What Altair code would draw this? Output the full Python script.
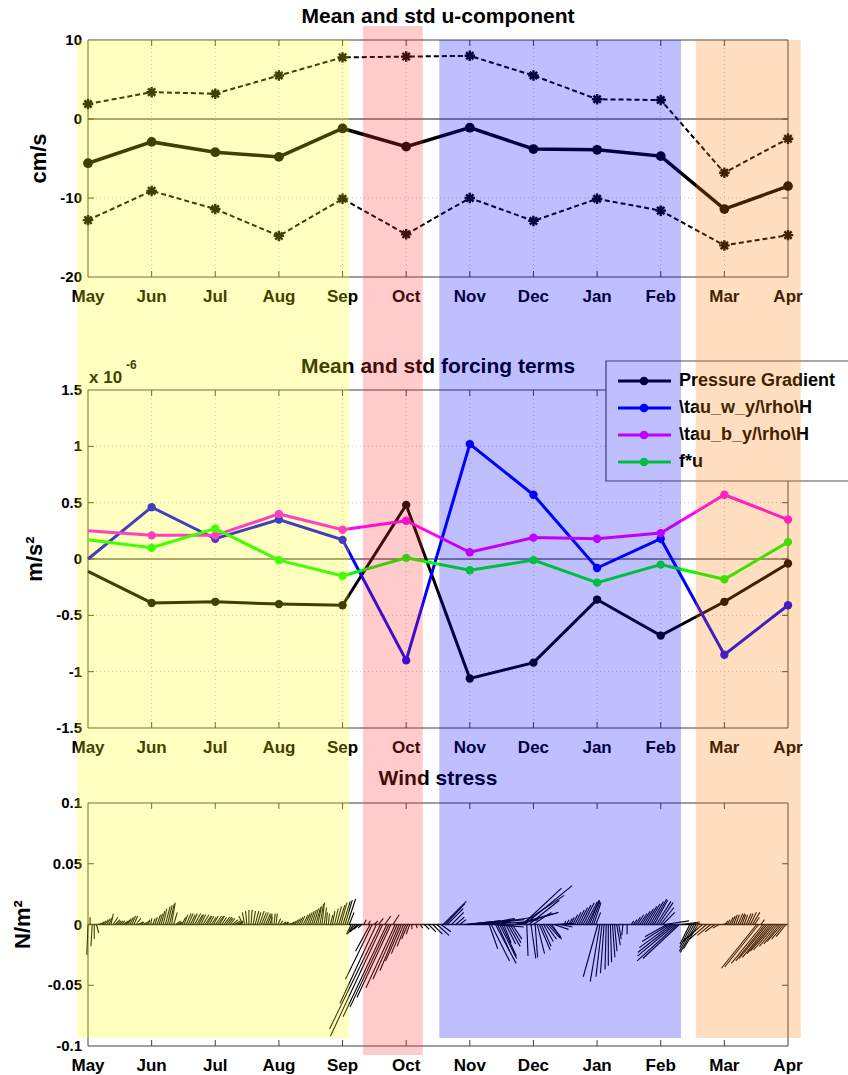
import altair as alt
import pandas as pd

FONT = "Liberation Sans, Arial, Helvetica, sans-serif"
AXIS_COLOR = "#404040"
GRID_COLOR = "#c4c4c4"

MONTHS = ["May", "Jun", "Jul", "Aug", "Sep", "Oct", "Nov", "Dec", "Jan", "Feb", "Mar", "Apr"]
PANEL_TITLES = ["Mean and std u-component", "Mean and std forcing terms", "Wind stress"]

# monthly u-component statistics (cm/s)
U_MEAN = [-5.6, -2.9, -4.2, -4.8, -1.2, -3.5, -1.1, -3.8, -3.9, -4.7, -11.4, -8.5]
U_PLUS_STD = [1.9, 3.4, 3.2, 5.5, 7.8, 7.9, 8.0, 5.5, 2.5, 2.4, -6.8, -2.5]
U_MINUS_STD = [-12.8, -9.1, -11.4, -14.8, -10.1, -14.6, -10.0, -12.9, -10.1, -11.6, -16.0, -14.7]

# monthly forcing terms (x 1e-6 m/s^2)
TERM_NAMES = ["Pressure Gradient", "\\tau_w_y/\\rho\\H", "\\tau_b_y/\\rho\\H", "f*u"]
TERM_COLORS = ["#000000", "#0000ff", "#ff00ff", "#00ff00"]
PRESSURE_GRADIENT = [-0.11, -0.39, -0.38, -0.40, -0.41, 0.48, -1.06, -0.92, -0.36, -0.68, -0.38, -0.04]
TAU_W = [0.00, 0.46, 0.18, 0.35, 0.17, -0.90, 1.02, 0.57, -0.08, 0.18, -0.85, -0.41]
TAU_B = [0.25, 0.21, 0.21, 0.40, 0.26, 0.34, 0.06, 0.19, 0.18, 0.23, 0.57, 0.35]
F_U = [0.17, 0.10, 0.27, -0.01, -0.15, 0.01, -0.10, -0.01, -0.21, -0.05, -0.18, 0.15]

# wind stress sticks: (day since 1 May, tau_x, tau_y) in N/m^2
STICKS_MAY_SEP = [
    (0, -0.001, -0.025), (1, 0.000, 0.006), (2, -0.001, -0.018), (3, 0.000, -0.012), (4, 0.002, -0.007),
    (5, 0.003, 0.001), (6, 0.003, 0.002), (7, 0.003, 0.003), (8, 0.003, 0.004), (9, 0.003, 0.005),
    (10, 0.003, 0.006), (11, 0.002, 0.009), (12, 0.004, 0.006), (13, 0.004, 0.004), (14, 0.003, 0.003),
    (15, 0.003, 0.003), (16, 0.003, 0.003), (17, 0.004, 0.003), (18, 0.004, 0.004), (19, 0.003, 0.005),
    (20, 0.003, 0.006), (21, 0.003, 0.007), (22, 0.003, 0.007), (23, 0.004, 0.005), (24, 0.004, 0.002),
    (25, 0.003, 0.002), (26, 0.003, 0.001), (27, 0.002, 0.002), (28, 0.002, 0.003), (29, 0.001, 0.004),
    (30, 0.001, 0.005), (31, 0.002, 0.005), (32, 0.002, 0.006), (33, 0.003, 0.008), (34, 0.003, 0.009),
    (35, 0.003, 0.011), (36, 0.003, 0.013), (37, 0.004, 0.015), (38, 0.004, 0.016), (39, 0.004, 0.017),
    (40, 0.003, 0.018), (41, 0.003, 0.010), (42, 0.004, 0.003), (43, 0.003, 0.002), (44, 0.002, 0.002),
    (45, 0.003, 0.006), (46, 0.003, 0.008), (47, 0.004, 0.009), (48, 0.004, 0.009), (49, 0.004, 0.008),
    (50, 0.004, 0.009), (51, 0.005, 0.009), (52, 0.005, 0.008), (53, 0.004, 0.008), (54, 0.004, 0.008),
    (55, 0.005, 0.008), (56, 0.005, 0.007), (57, 0.004, 0.007), (58, 0.004, 0.007), (59, 0.004, 0.006),
    (60, 0.004, 0.007), (61, 0.005, 0.007), (62, 0.005, 0.007), (63, 0.004, 0.007), (64, 0.004, 0.006),
    (65, 0.005, 0.006), (66, 0.005, 0.006), (67, 0.004, 0.005), (68, 0.004, 0.005), (69, 0.005, 0.004),
    (70, 0.005, 0.003), (71, 0.004, 0.002), (72, 0.004, 0.002), (73, 0.002, 0.003), (74, -0.003, 0.007),
    (75, -0.002, 0.010), (76, -0.001, 0.011), (77, 0.000, 0.012), (78, 0.001, 0.012), (79, 0.002, 0.011),
    (80, 0.003, 0.011), (81, 0.003, 0.010), (82, 0.004, 0.011), (83, 0.004, 0.010), (84, 0.004, 0.010),
    (85, 0.004, 0.009), (86, 0.003, 0.008), (87, 0.002, 0.006), (88, 0.000, 0.009), (89, 0.001, 0.009),
    (90, 0.001, 0.009), (91, 0.002, 0.005), (92, 0.002, 0.003), (93, 0.003, 0.002), (94, 0.003, 0.002),
    (95, 0.002, 0.002), (96, 0.002, 0.001), (97, 0.003, 0.002), (98, 0.003, 0.003), (99, 0.003, 0.004),
    (100, 0.003, 0.005), (101, 0.003, 0.006), (102, 0.003, 0.007), (103, 0.004, 0.008), (104, 0.004, 0.009),
    (105, 0.004, 0.010), (106, 0.004, 0.011), (107, 0.004, 0.012), (108, 0.004, 0.013), (109, 0.004, 0.014),
    (110, 0.003, 0.015), (111, 0.003, 0.017), (112, 0.002, 0.018), (113, 0.002, 0.014), (114, 0.001, 0.010),
    (115, 0.001, 0.009), (116, 0.002, 0.008), (117, 0.002, 0.011), (118, 0.003, 0.013), (119, 0.004, 0.015),
    (120, 0.005, 0.016), (121, 0.005, 0.018), (122, 0.006, 0.019), (123, 0.006, 0.020), (124, 0.007, 0.021),
    (125, 0.004, 0.010), (126, -0.004, -0.008), (127, -0.005, -0.008), (128, -0.006, -0.007),
    (129, -0.006, -0.006), (130, -0.005, -0.004), (131, -0.003, -0.003),
]
STICKS_OCT = [
    (132, 0.002, 0.004), (134, 0.002, 0.003), (135, -0.012, -0.022), (136, -0.022, -0.045),
    (137, 0.003, 0.003), (138, -0.030, -0.065), (139, 0.004, 0.005), (140, -0.042, -0.086),
    (141, -0.043, -0.092), (142, 0.005, 0.007), (143, -0.036, -0.076), (144, -0.032, -0.068),
    (145, -0.028, -0.060), (146, 0.005, 0.008), (147, -0.024, -0.052), (148, -0.020, -0.045),
    (149, -0.016, -0.038), (150, -0.013, -0.030), (151, -0.010, -0.024), (152, -0.007, -0.018),
    (153, -0.005, -0.012), (154, -0.003, -0.008), (155, 0.000, -0.004), (157, 0.001, -0.003),
    (159, 0.002, -0.003), (161, 0.004, -0.004), (163, 0.006, -0.006), (165, 0.008, -0.008),
    (167, 0.010, -0.009), (169, 0.008, -0.006),
]
STICKS_NOV_FEB = [
    (170, 0.019, 0.019), (171, 0.016, 0.017), (172, 0.013, 0.013), (174, 0.010, 0.010), (176, 0.007, 0.006),
    (178, 0.005, 0.004), (180, 0.030, 0.003), (181, 0.028, 0.003), (182, 0.025, 0.002), (183, 0.032, 0.003),
    (184, 0.035, 0.004), (185, 0.030, 0.002), (186, 0.020, 0.001), (187, 0.024, 0.003), (188, 0.028, 0.005),
    (189, 0.034, 0.004), (190, 0.040, 0.006), (191, 0.030, 0.002), (192, 0.007, -0.020), (193, 0.015, -0.030),
    (194, 0.025, -0.002), (195, 0.017, -0.032), (196, 0.010, -0.022), (197, 0.014, -0.028), (198, 0.012, -0.026),
    (199, 0.006, -0.015), (200, 0.008, -0.016), (201, 0.010, -0.018), (202, 0.009, -0.015), (203, 0.008, -0.012),
    (204, 0.020, 0.004), (205, 0.030, 0.009), (206, 0.033, 0.010), (207, 0.036, 0.024), (208, 0.032, 0.030),
    (209, 0.039, 0.032), (210, 0.001, -0.026), (211, 0.025, 0.020), (212, 0.004, -0.028), (213, 0.015, 0.010),
    (214, 0.002, -0.027), (215, 0.006, -0.024), (216, 0.009, -0.021), (217, 0.008, -0.018), (218, 0.008, -0.014),
    (219, 0.009, -0.012), (220, 0.010, -0.011), (221, 0.009, -0.010), (222, 0.008, -0.012), (223, 0.012, -0.004),
    (224, 0.015, 0.001), (225, 0.012, 0.000), (226, 0.010, -0.002), (227, 0.004, 0.001), (228, 0.001, 0.003),
    (229, 0.002, 0.004), (230, 0.003, 0.005), (231, 0.003, 0.006), (232, 0.004, 0.008), (233, 0.005, 0.010),
    (234, 0.006, 0.012), (235, 0.007, 0.014), (236, 0.008, 0.016), (237, 0.009, 0.018), (238, 0.010, 0.019),
    (239, 0.010, 0.020), (240, 0.008, 0.020), (241, 0.007, 0.019), (242, 0.006, 0.018), (243, 0.004, 0.010),
    (244, -0.012, -0.043), (245, -0.008, -0.047), (246, -0.005, -0.043), (247, -0.003, -0.040),
    (248, -0.001, -0.037), (249, 0.000, -0.034), (250, 0.001, -0.031), (251, 0.002, -0.027),
    (252, 0.002, -0.022), (253, 0.003, -0.017), (254, 0.002, -0.012), (256, -0.001, -0.009),
    (258, 0.000, -0.008), (260, 0.002, 0.003), (261, 0.003, 0.004), (262, 0.004, 0.006), (263, 0.005, 0.008),
    (264, 0.006, 0.009), (265, 0.007, 0.011), (266, 0.008, 0.013), (267, 0.009, 0.015), (268, 0.010, 0.017),
    (269, 0.011, 0.019), (270, 0.012, 0.021), (271, 0.011, 0.020), (272, 0.012, 0.019), (273, 0.012, 0.018),
    (274, 0.011, 0.014), (275, 0.010, 0.010), (276, 0.020, 0.003), (277, -0.018, -0.010), (278, -0.022, -0.014),
    (279, -0.026, -0.019), (280, -0.029, -0.023), (281, -0.031, -0.026), (282, -0.033, -0.030),
    (283, -0.030, -0.028), (284, 0.015, 0.002), (286, 0.012, 0.001), (288, -0.008, -0.016),
    (289, -0.010, -0.019), (290, -0.012, -0.022), (291, -0.013, -0.023), (292, -0.012, -0.020),
]
STICKS_MAR_APR = [
    (294, -0.016, -0.014), (296, -0.014, -0.012), (298, -0.011, -0.009), (300, -0.008, -0.006),
    (302, -0.005, -0.003), (304, 0.003, 0.001), (305, 0.002, 0.003), (306, 0.002, 0.004), (307, 0.003, 0.006),
    (308, 0.003, 0.007), (309, 0.003, 0.008), (310, 0.003, 0.008), (311, 0.004, 0.009), (312, 0.004, 0.009),
    (313, 0.003, 0.008), (314, 0.003, 0.008), (315, 0.004, 0.009), (316, 0.004, 0.009), (317, 0.005, 0.010),
    (318, 0.006, 0.010), (319, 0.004, 0.006), (320, -0.029, -0.036), (321, -0.028, -0.035),
    (322, 0.003, 0.004), (323, -0.026, -0.032), (324, -0.024, -0.030), (325, -0.023, -0.028),
    (326, -0.022, -0.027), (327, -0.020, -0.024), (328, -0.019, -0.022), (329, -0.018, -0.021),
    (330, -0.015, -0.018), (331, -0.013, -0.016), (332, -0.012, -0.014), (333, -0.010, -0.012),
    (334, -0.008, -0.010),
]

# seasonal shading, in month units along the time axis
SEASONS = ["May-Sep", "Oct", "Nov-Feb", "Mar-Apr"]
SEASON_START = [-0.17, 4.32, 5.52, 9.55]
SEASON_END = [4.10, 5.26, 9.32, 11.20]
SEASON_COLORS = ["#ffff00", "#ff3030", "#0000ff", "#ff8000"]

# ---------------------------------------------------------------- layout
W, H = 700, 1006
DAYS_PER_MONTH = 335 / 11
XS = alt.Scale(domain=[0, 11], nice=False, zero=False)
Y1 = alt.Scale(domain=[-20, 10], range=[237, 0], nice=False, zero=False)
Y2 = alt.Scale(domain=[-1.5, 1.5], range=[688, 350], nice=False, zero=False)
Y3 = alt.Scale(domain=[-0.1, 0.1], range=[1006, 763], nice=False, zero=False)
STAR = "M-1,0L1,0M0,-1L0,1M-0.7,-0.7L0.7,0.7M-0.7,0.7L0.7,-0.7"
TXT = dict(font=FONT, fontWeight="bold", color="black")


def xq(field):
    return alt.X(field, type="quantitative", scale=XS, axis=None)


def yq(field, ys):
    return alt.Y(field, type="quantitative", scale=ys, axis=None)


def frame(ys, lo, hi, levels, title, title_x, grid, zero_color, zero_width):
    """Box, inward ticks, tick labels, grid and zero line for one panel."""
    months = pd.DataFrame({"m": list(range(12)), "label": MONTHS, "lo": lo, "hi": hi})
    lev = pd.DataFrame({"v": levels, "label": [f"{v:g}" for v in levels], "a": 0, "b": 11})
    edge = pd.DataFrame({"a": [0], "b": [11], "lo": [lo], "hi": [hi], "z": [0.0],
                         "mid": [(lo + hi) / 2], "title": [title]})
    gstyle = dict(color=GRID_COLOR, strokeDash=[1, 3], strokeWidth=1)
    tick = dict(size=6, thickness=1, color=AXIS_COLOR, opacity=1)
    box = dict(color=AXIS_COLOR, strokeWidth=1)
    inner_m = months[(months.m > 0) & (months.m < 11)]
    inner_v = lev[(lev.v > lo) & (lev.v < hi)]
    layers = []
    if grid:
        layers += [
            alt.Chart(inner_m).mark_rule(**gstyle).encode(x=xq("m"), y=yq("lo", ys), y2="hi:Q"),
            alt.Chart(inner_v).mark_rule(**gstyle).encode(y=yq("v", ys), x=xq("a"), x2="b:Q"),
        ]
    layers += [
        alt.Chart(edge).mark_rule(color=zero_color, strokeWidth=zero_width).encode(
            x=xq("a"), x2="b:Q", y=yq("z", ys)),
        # box
        alt.Chart(edge).mark_rule(**box).encode(x=xq("a"), x2="b:Q", y=yq("hi", ys)),
        alt.Chart(edge).mark_rule(**box).encode(x=xq("a"), x2="b:Q", y=yq("lo", ys)),
        alt.Chart(edge).mark_rule(**box).encode(x=xq("a"), y=yq("lo", ys), y2="hi:Q"),
        alt.Chart(edge).mark_rule(**box).encode(x=xq("b"), y=yq("lo", ys), y2="hi:Q"),
        # inward ticks
        alt.Chart(inner_m).mark_tick(orient="vertical", yOffset=-3, **tick).encode(x=xq("m"), y=yq("lo", ys)),
        alt.Chart(inner_m).mark_tick(orient="vertical", yOffset=3, **tick).encode(x=xq("m"), y=yq("hi", ys)),
        alt.Chart(inner_v).mark_tick(orient="horizontal", xOffset=3, **tick).encode(x=xq("a"), y=yq("v", ys)),
        alt.Chart(inner_v).mark_tick(orient="horizontal", xOffset=-3, **tick).encode(x=xq("b"), y=yq("v", ys)),
        # tick labels and unit title
        alt.Chart(months).mark_text(align="center", baseline="middle", dy=20, fontSize=17, **TXT).encode(
            x=xq("m"), y=yq("lo", ys), text="label:N"),
        alt.Chart(lev).mark_text(align="right", baseline="middle", dx=-6, fontSize=15, **TXT).encode(
            x=xq("a"), y=yq("v", ys), text="label:N"),
        alt.Chart(edge).mark_text(align="center", baseline="bottom", angle=270, fontSize=22, **TXT).encode(
            x=alt.value(title_x), y=yq("mid", ys), text="title:N"),
    ]
    return layers


# ---------------------------------------------------------------- panel 1: u-component
u = pd.DataFrame({"m": list(range(12)), "mean": U_MEAN, "upper": U_PLUS_STD, "lower": U_MINUS_STD})
std_lines = alt.Chart(u).transform_fold(["upper", "lower"], as_=["side", "val"])
panel1 = alt.layer(
    *frame(Y1, -20, 10, [-20, -10, 0, 10], "cm/s", -37, True, "#6a6a6a", 1.5),
    std_lines.mark_line(color="black", strokeWidth=2, strokeDash=[5, 3]).encode(
        x=xq("m"), y=yq("val", Y1), detail="side:N"),
    std_lines.mark_point(shape=STAR, filled=False, size=110, strokeWidth=2.4, color="black", opacity=1).encode(
        x=xq("m"), y=yq("val", Y1)),
    alt.Chart(u).mark_line(color="black", strokeWidth=3.5).encode(x=xq("m"), y=yq("mean", Y1)),
    alt.Chart(u).mark_point(shape="circle", filled=True, size=95, color="black", opacity=1).encode(
        x=xq("m"), y=yq("mean", Y1)),
)

# ---------------------------------------------------------------- panel 2: forcing terms
terms = pd.DataFrame({"m": list(range(12)), TERM_NAMES[0]: PRESSURE_GRADIENT, TERM_NAMES[1]: TAU_W,
                      TERM_NAMES[2]: TAU_B, TERM_NAMES[3]: F_U}).melt(
    id_vars="m", var_name="term", value_name="val")
CS = alt.Scale(domain=TERM_NAMES, range=TERM_COLORS)
panel2 = alt.layer(
    *frame(Y2, -1.5, 1.5, [-1.5, -1, -0.5, 0, 0.5, 1, 1.5], "m/s\u00b2", -41, True, "#6a6a6a", 1.5),
    alt.Chart(terms).mark_line(strokeWidth=3).encode(
        x=xq("m"), y=yq("val", Y2), color=alt.Color("term:N", scale=CS, legend=None)),
    alt.Chart(terms).transform_filter("datum.m > 0").mark_point(filled=True, size=70, opacity=1).encode(
        x=xq("m"), y=yq("val", Y2), color=alt.Color("term:N", scale=CS, legend=None)),
)

# ---------------------------------------------------------------- panel 3: wind stress sticks
sticks = pd.DataFrame(STICKS_MAY_SEP + STICKS_OCT + STICKS_NOV_FEB + STICKS_MAR_APR,
                      columns=["day", "taux", "tauy"])
# equal aspect: one N/m^2 along x spans as many pixels as along y
aspect = ((1006 - 763) / 0.2) / (W / 11)
sticks["t0"] = sticks["day"] / DAYS_PER_MONTH
sticks["t1"] = sticks["t0"] + sticks["taux"] * aspect
sticks["base"] = 0.0
panel3 = alt.layer(
    *frame(Y3, -0.1, 0.1, [-0.1, -0.05, 0, 0.05, 0.1], "N/m\u00b2", -53, False, "#202020", 1.5),
    alt.Chart(sticks).mark_rule(color="black", strokeWidth=1.1).encode(
        x=xq("t0"), x2="t1:Q", y=yq("base", Y3), y2="tauy:Q"),
)

# ---------------------------------------------------------------- legend of the forcing terms
one = pd.DataFrame({"k": [0]})
leg = pd.DataFrame({"term": TERM_NAMES, "row": list(range(len(TERM_NAMES)))})
LY = alt.Y("row:Q", scale=alt.Scale(domain=[0, 3], range=[341, 422], nice=False, zero=False), axis=None)
legend = alt.layer(
    alt.Chart(one).mark_rect(fill="white", stroke="#505050", strokeWidth=1.2).encode(
        x=alt.value(518), x2=alt.value(780), y=alt.value(321), y2=alt.value(441)),
    alt.Chart(leg).mark_rule(strokeWidth=3).encode(
        x=alt.value(530), x2=alt.value(583), y=LY, color=alt.Color("term:N", scale=CS, legend=None)),
    alt.Chart(leg).mark_point(filled=True, size=75, opacity=1).encode(
        x=alt.value(556), y=LY, color=alt.Color("term:N", scale=CS, legend=None)),
    alt.Chart(leg).mark_text(align="left", baseline="middle", fontSize=18, **TXT).encode(
        x=alt.value(591), y=LY, text="term:N"),
)


# ---------------------------------------------------------------- titles
def label(text, x, y, size, align="center"):
    return alt.Chart(one).mark_text(align=align, baseline="middle", fontSize=size, **TXT).encode(
        x=alt.value(x), y=alt.value(y), text=alt.value(text))


titles = alt.layer(
    label(PANEL_TITLES[0], 350, -23, 21),
    label(PANEL_TITLES[1], 350, 327, 21),
    label(PANEL_TITLES[2], 350, 739, 21),
    label("x 10", 1, 338, 17, "left"),
    label("-6", 38, 325, 12, "left"),
)

# ---------------------------------------------------------------- seasonal shading on top
seasons = pd.DataFrame({"season": SEASONS, "start": SEASON_START, "end": SEASON_END})
FS = alt.Scale(domain=SEASONS, range=SEASON_COLORS)
bands = alt.layer(
    alt.Chart(seasons).transform_filter("datum.season != 'Oct'").mark_rect(opacity=0.25).encode(
        x=xq("start"), x2="end:Q", y=alt.value(0), y2=alt.value(998),
        fill=alt.Fill("season:N", scale=FS, legend=None)),
    alt.Chart(seasons).transform_filter("datum.season == 'Oct'").mark_rect(opacity=0.25).encode(
        x=xq("start"), x2="end:Q", y=alt.value(-14), y2=alt.value(1015),
        fill=alt.Fill("season:N", scale=FS, legend=None)),
)

chart = (
    alt.layer(panel1, panel2, panel3, legend, titles, bands)
    .resolve_scale(y="independent")
    .properties(
        width=W, height=H, background="white",
        autosize=alt.AutoSizeParams(type="none"),
        padding={"left": 88, "top": 40, "right": 60, "bottom": 29},
    )
    .configure_view(stroke=None)
)

chart.save("out.html", embed_options={"renderer": "svg", "actions": False})
